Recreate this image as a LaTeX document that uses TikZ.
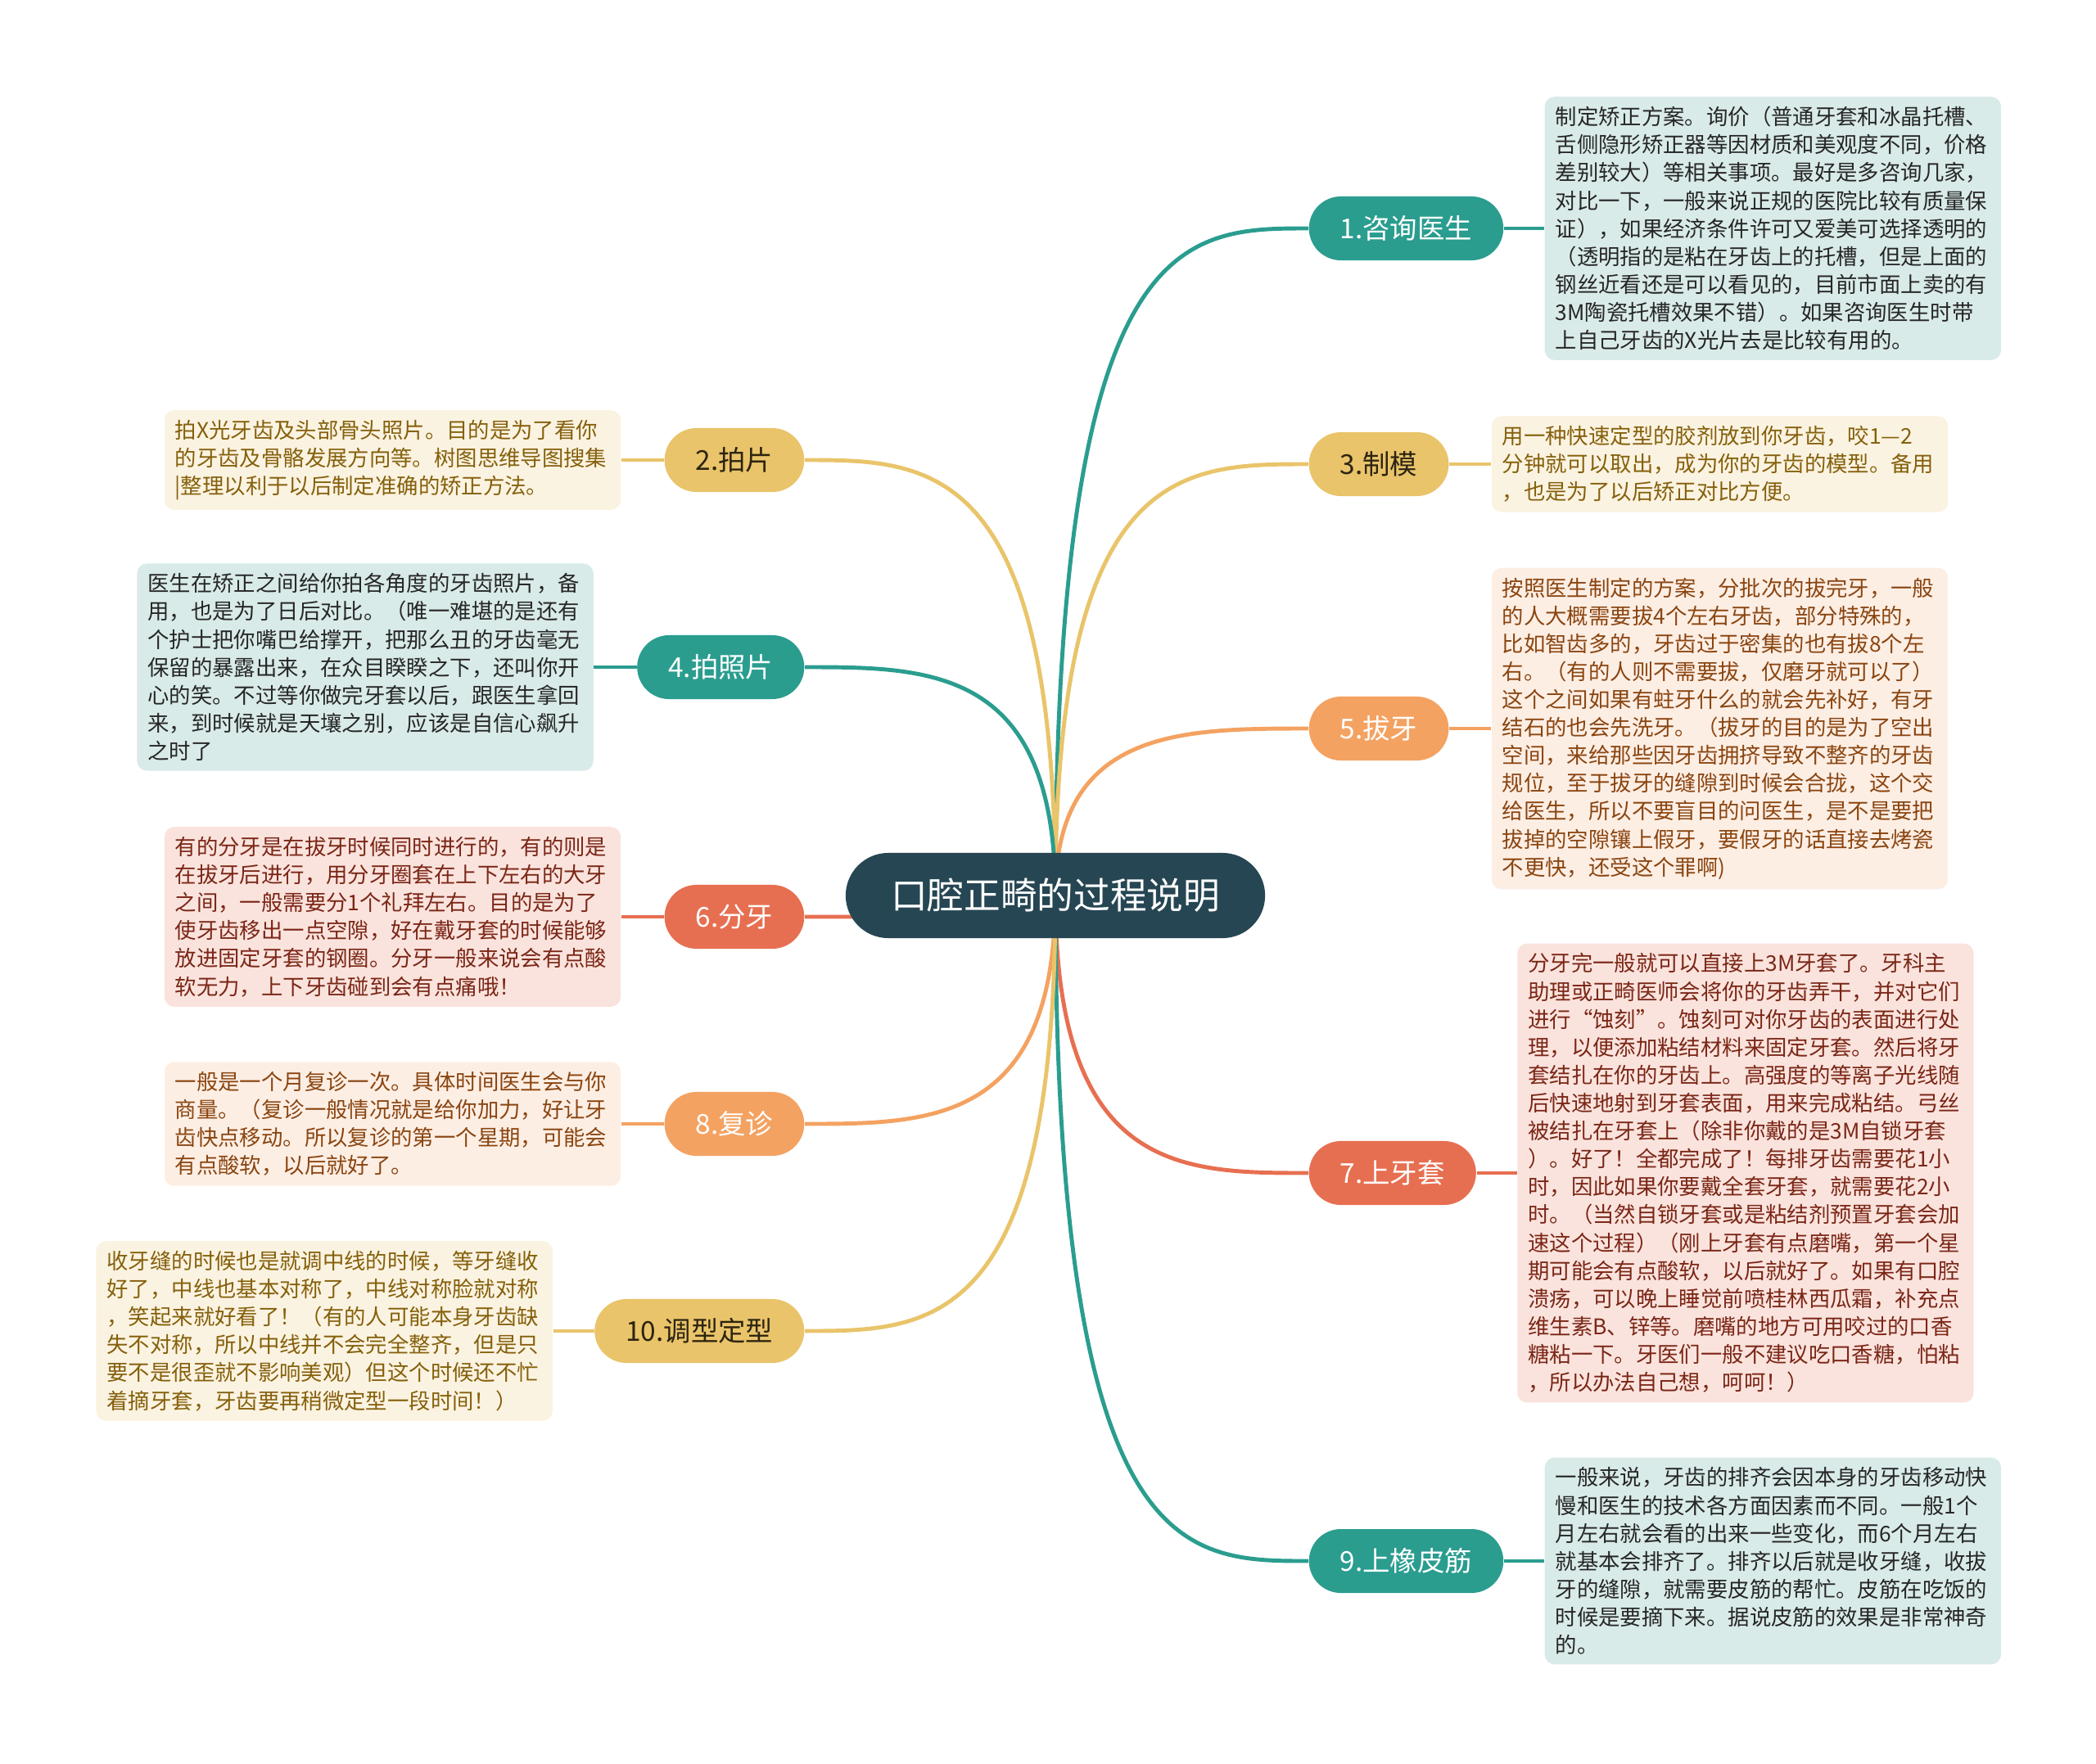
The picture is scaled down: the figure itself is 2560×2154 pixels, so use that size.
\documentclass[tikz,border=0pt]{standalone}
\usepackage{fontspec}
\setmainfont{Noto Sans CJK SC}
\usetikzlibrary{positioning,calc,backgrounds}

\definecolor{rootc}{HTML}{264653}
\definecolor{tealc}{HTML}{2A9D8F}
\definecolor{yellowc}{HTML}{E9C46A}
\definecolor{orangec}{HTML}{F4A261}
\definecolor{redc}{HTML}{E76F51}
\definecolor{tealbg}{HTML}{D9EBE9}
\definecolor{yellowbg}{HTML}{FBF3E1}
\definecolor{orangebg}{HTML}{FDEEE4}
\definecolor{redbg}{HTML}{FAE3DD}
\definecolor{tealtx}{HTML}{262626}
\definecolor{yellowtx}{HTML}{85600C}
\definecolor{orangetx}{HTML}{8A4510}
\definecolor{redtx}{HTML}{7B2616}
\definecolor{darktx}{HTML}{2D2410}

\begin{document}
\begin{tikzpicture}[x=0.01cm, y=-0.01cm,
  root/.style={fill=rootc, text=white, rounded corners=0.52cm, minimum width=5.12cm,
    minimum height=1.04cm, font=\fontsize{12.7}{15}\selectfont},
  branch/.style={rounded corners=0.39cm, minimum height=0.78cm, inner xsep=0.38cm,
    font=\fontsize{9.5}{11}\selectfont},
  tealb/.style={branch, fill=tealc, text=white},
  yellowb/.style={branch, fill=yellowc, text=darktx},
  orangeb/.style={branch, fill=orangec, text=white},
  redb/.style={branch, fill=redc, text=white},
  leaf/.style={rounded corners=0.12cm, text width=5.31cm, inner xsep=0.13cm,
    inner ysep=0.12cm, align=left, font=\fontsize{7.5}{9.7}\selectfont},
  tealleaf/.style={leaf, fill=tealbg, text=tealtx},
  yellowleaf/.style={leaf, fill=yellowbg, text=yellowtx},
  orangeleaf/.style={leaf, fill=orangebg, text=orangetx},
  redleaf/.style={leaf, fill=redbg, text=redtx},
  conn/.style={line width=1.4pt}]
  \useasboundingbox (0,0) rectangle (2560,2154);

  \node[root] (root) at (1289,1094) {口腔正畸的过程说明};

  % right side
  \node[tealb, anchor=west]   (b1) at (1598,279)  {1.咨询医生};
  \node[yellowb, anchor=west] (b3) at (1598,567)  {3.制模};
  \node[orangeb, anchor=west] (b5) at (1598,890)  {5.拔牙};
  \node[redb, anchor=west]    (b7) at (1598,1433) {7.上牙套};
  \node[tealb, anchor=west]   (b9) at (1598,1907) {9.上橡皮筋};

  % left side
  \node[yellowb, anchor=east] (b2)  at (983,562)  {2.拍片};
  \node[tealb, anchor=east]   (b4)  at (983,815)  {4.拍照片};
  \node[redb, anchor=east]    (b6)  at (983,1120) {6.分牙};
  \node[orangeb, anchor=east] (b8)  at (983,1373) {8.复诊};
  \node[yellowb, anchor=east] (b10) at (983,1626) {10.调型定型};

  \node[tealleaf, right=0.49cm of b1] (t1) {制定矫正方案。询价（普通牙套和冰晶托槽、\\
    舌侧隐形矫正器等因材质和美观度不同，价格\\
    差别较大）等相关事项。最好是多咨询几家，\\
    对比一下，一般来说正规的医院比较有质量保\\
    证），如果经济条件许可又爱美可选择透明的\\
    （透明指的是粘在牙齿上的托槽，但是上面的\\
    钢丝近看还是可以看见的，目前市面上卖的有\\
    3M陶瓷托槽效果不错）。如果咨询医生时带\\
    上自己牙齿的X光片去是比较有用的。};
  \node[yellowleaf, right=0.51cm of b3] (t3) {用一种快速定型的胶剂放到你牙齿，咬1—2\\
    分钟就可以取出，成为你的牙齿的模型。备用\\
    ，也是为了以后矫正对比方便。};
  \node[orangeleaf, right=0.51cm of b5] (t5) {按照医生制定的方案，分批次的拔完牙，一般\\
    的人大概需要拔4个左右牙齿，部分特殊的，\\
    比如智齿多的，牙齿过于密集的也有拔8个左\\
    右。（有的人则不需要拔，仅磨牙就可以了）\\
    这个之间如果有蛀牙什么的就会先补好，有牙\\
    结石的也会先洗牙。（拔牙的目的是为了空出\\
    空间，来给那些因牙齿拥挤导致不整齐的牙齿\\
    规位，至于拔牙的缝隙到时候会合拢，这个交\\
    给医生，所以不要盲目的问医生，是不是要把\\
    拔掉的空隙镶上假牙，要假牙的话直接去烤瓷\\
    不更快，还受这个罪啊)};
  \node[redleaf, right=0.49cm of b7] (t7) {分牙完一般就可以直接上3M牙套了。牙科主\\
    助理或正畸医师会将你的牙齿弄干，并对它们\\
    进行“蚀刻”。蚀刻可对你牙齿的表面进行处\\
    理，以便添加粘结材料来固定牙套。然后将牙\\
    套结扎在你的牙齿上。高强度的等离子光线随\\
    后快速地射到牙套表面，用来完成粘结。弓丝\\
    被结扎在牙套上（除非你戴的是3M自锁牙套\\
    ）。好了！全都完成了！每排牙齿需要花1小\\
    时，因此如果你要戴全套牙套，就需要花2小\\
    时。（当然自锁牙套或是粘结剂预置牙套会加\\
    速这个过程）（刚上牙套有点磨嘴，第一个星\\
    期可能会有点酸软，以后就好了。如果有口腔\\
    溃疡，可以晚上睡觉前喷桂林西瓜霜，补充点\\
    维生素B、锌等。磨嘴的地方可用咬过的口香\\
    糖粘一下。牙医们一般不建议吃口香糖，怕粘\\
    ，所以办法自己想，呵呵！）};
  \node[tealleaf, right=0.49cm of b9] (t9) {一般来说，牙齿的排齐会因本身的牙齿移动快\\
    慢和医生的技术各方面因素而不同。一般1个\\
    月左右就会看的出来一些变化，而6个月左右\\
    就基本会排齐了。排齐以后就是收牙缝，收拔\\
    牙的缝隙，就需要皮筋的帮忙。皮筋在吃饭的\\
    时候是要摘下来。据说皮筋的效果是非常神奇\\
    的。};

  \node[yellowleaf, left=0.52cm of b2] (t2) {拍X光牙齿及头部骨头照片。目的是为了看你\\
    的牙齿及骨骼发展方向等。树图思维导图搜集\\
    |整理以利于以后制定准确的矫正方法。};
  \node[tealleaf, left=0.52cm of b4] (t4) {医生在矫正之间给你拍各角度的牙齿照片，备\\
    用，也是为了日后对比。（唯一难堪的是还有\\
    个护士把你嘴巴给撑开，把那么丑的牙齿毫无\\
    保留的暴露出来，在众目睽睽之下，还叫你开\\
    心的笑。不过等你做完牙套以后，跟医生拿回\\
    来，到时候就是天壤之别，应该是自信心飙升\\
    之时了};
  \node[redleaf, left=0.52cm of b6] (t6) {有的分牙是在拔牙时候同时进行的，有的则是\\
    在拔牙后进行，用分牙圈套在上下左右的大牙\\
    之间，一般需要分1个礼拜左右。目的是为了\\
    使牙齿移出一点空隙，好在戴牙套的时候能够\\
    放进固定牙套的钢圈。分牙一般来说会有点酸\\
    软无力，上下牙齿碰到会有点痛哦！};
  \node[orangeleaf, left=0.52cm of b8] (t8) {一般是一个月复诊一次。具体时间医生会与你\\
    商量。（复诊一般情况就是给你加力，好让牙\\
    齿快点移动。所以复诊的第一个星期，可能会\\
    有点酸软，以后就好了。};
  \node[yellowleaf, left=0.50cm of b10] (t10) {收牙缝的时候也是就调中线的时候，等牙缝收\\
    好了，中线也基本对称了，中线对称脸就对称\\
    ，笑起来就好看了！（有的人可能本身牙齿缺\\
    失不对称，所以中线并不会完全整齐，但是只\\
    要不是很歪就不影响美观）但这个时候还不忙\\
    着摘牙套，牙齿要再稍微定型一段时间！）};

  \begin{scope}[on background layer]
    \foreach \i/\c in {1/tealc, 3/yellowc, 5/orangec, 7/redc, 9/tealc}{
      \draw[conn, \c] (root.center) .. controls (root.center |- b\i.west)
        and ($(root.center |- b\i.west)!0.5!(b\i.west)$) .. (b\i.west);
      \draw[conn, \c] (b\i.east) -- (t\i.west);
    }
    \foreach \i/\c in {2/yellowc, 4/tealc, 6/redc, 8/orangec, 10/yellowc}{
      \draw[conn, \c] (root.center) .. controls (root.center |- b\i.east)
        and ($(root.center |- b\i.east)!0.5!(b\i.east)$) .. (b\i.east);
      \draw[conn, \c] (b\i.west) -- (t\i.east);
    }
  \end{scope}
\end{tikzpicture}
\end{document}
